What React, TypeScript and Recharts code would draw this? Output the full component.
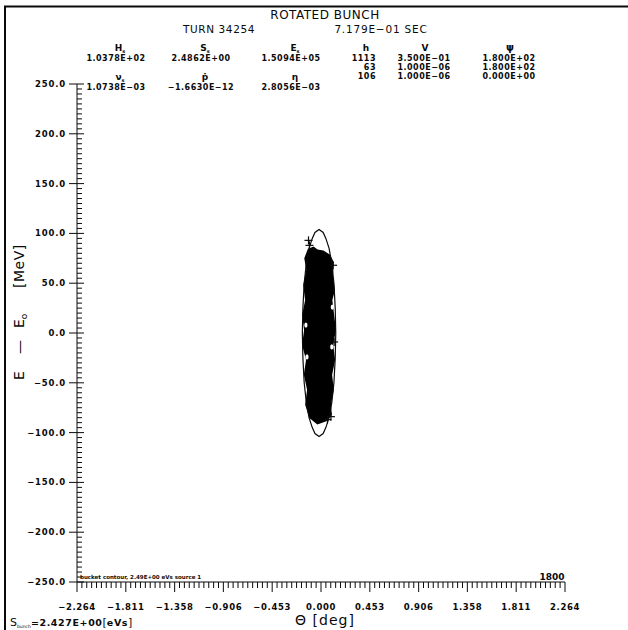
import { Curve, Scatter, ScatterChart, XAxis, YAxis } from 'recharts';

// axis labels (major ticks); minor ticks split each gap into 10
const xMajorTicks = [-2.264, -1.811, -1.358, -0.906, -0.453, 0, 0.453, 0.906, 1.358, 1.811, 2.264];
const yMajorTicks = [-250, -200, -150, -100, -50, 0, 50, 100, 150, 200, 250];

// outline of the particle cloud (theta [deg], E [MeV])
const bunchOutline = [
  { theta: -0.116, e: 84 }, { theta: -0.07, e: 86 }, { theta: -0.033, e: 83 }, { theta: 0.02, e: 82 },
  { theta: 0.079, e: 78 }, { theta: 0.112, e: 71 }, { theta: 0.104, e: 58 }, { theta: 0.122, e: 43 },
  { theta: 0.098, e: 33 }, { theta: 0.115, e: 18 }, { theta: 0.132, e: 3 }, { theta: 0.106, e: -12 },
  { theta: 0.124, e: -27 }, { theta: 0.096, e: -42 }, { theta: 0.112, e: -57 }, { theta: 0.086, e: -72 },
  { theta: 0.094, e: -82 }, { theta: 0.046, e: -88 }, { theta: -0.033, e: -91 }, { theta: -0.102, e: -85 },
  { theta: -0.14, e: -72 }, { theta: -0.122, e: -57 }, { theta: -0.152, e: -42 }, { theta: -0.132, e: -27 },
  { theta: -0.168, e: -12 }, { theta: -0.15, e: 3 }, { theta: -0.168, e: 18 }, { theta: -0.14, e: 33 },
  { theta: -0.158, e: 48 }, { theta: -0.13, e: 63 }, { theta: -0.148, e: 75 },
];

// bucket contour (2.49E+00 eVs)
const bucketContour = [
  { theta: -0.018, e: 104 }, { theta: 0.02, e: 101 }, { theta: 0.045, e: 95 }, { theta: 0.075, e: 85 },
  { theta: 0.1, e: 70 }, { theta: 0.12, e: 50 }, { theta: 0.132, e: 25 }, { theta: 0.137, e: 0 },
  { theta: 0.132, e: -25 }, { theta: 0.12, e: -50 }, { theta: 0.1, e: -70 }, { theta: 0.075, e: -85 },
  { theta: 0.045, e: -95 }, { theta: 0.02, e: -101 }, { theta: -0.018, e: -104 }, { theta: -0.056, e: -101 },
  { theta: -0.081, e: -95 }, { theta: -0.111, e: -85 }, { theta: -0.136, e: -70 }, { theta: -0.156, e: -50 },
  { theta: -0.168, e: -25 }, { theta: -0.173, e: 0 }, { theta: -0.168, e: 25 }, { theta: -0.156, e: 50 },
  { theta: -0.136, e: 70 }, { theta: -0.111, e: 85 }, { theta: -0.081, e: 95 }, { theta: -0.056, e: 101 },
];

const strayParticles = [
  { theta: -0.116, e: 93 }, { theta: -0.107, e: 88 }, { theta: 0.112, e: 68 },
  { theta: 0.122, e: -9 }, { theta: 0.06, e: -87 }, { theta: 0.092, e: -84 },
];

// white notches along the edge of the cloud
const cloudGaps = [
  { theta: -0.14, e: 8 }, { theta: 0.105, e: 26 }, { theta: 0.1, e: -14 }, { theta: -0.13, e: -24 },
];

// header table
const symbolsTop = [['H', 's'], ['S', 's'], ['E', 's']];
const valuesTop = ['1.0378E+02', '2.4862E+00', '1.5094E+05'];
const symbolsBottom = [['ν', 's'], ['ṗ', ''], ['η', '']];
const valuesBottom = ['1.0738E-03', '-1.6630E-12', '2.8056E-03'];
const harmonics = ['1113', '63', '106'];
const voltages = ['3.500E-01', '1.000E-06', '1.000E-06'];
const phases = ['1.800E+02', '1.800E+02', '0.000E+00'];

const INK = '#0a0a0a';
const FONT = 'DejaVu Sans, sans-serif';

const subdivide = (majors: number[], parts: number) => {
  const out: number[] = [];
  majors.forEach((m, i) => {
    if (i === majors.length - 1) {
      out.push(m);
      return;
    }
    const step = (majors[i + 1] - m) / parts;
    for (let k = 0; k < parts; k++) out.push(m + k * step);
  });
  return out;
};

const xTicks = subdivide(xMajorTicks, 10);
const yTicks = subdivide(yMajorTicks, 10);

const isMajor = (majors: number[], v: number) => majors.some(m => Math.abs(m - v) < 1e-6);
const minus = (s: string) => s.replace(/-/g, '−');

const XTick = (props: any) => {
  const { x, y, payload } = props;
  const major = isMajor(xMajorTicks, payload.value);
  return (
    <g>
      <line x1={x} x2={x} y1={y} y2={y + (major ? 10 : 6)} stroke={INK} strokeWidth={1} />
      {major && (
        <text x={x} y={y + 28} textAnchor="middle" fontSize={8.5} fontWeight="bold" letterSpacing={0.6} fill={INK} fontFamily={FONT}>
          {minus(payload.value.toFixed(3))}
        </text>
      )}
    </g>
  );
};

const YTick = (props: any) => {
  const { x, y, payload } = props;
  const major = isMajor(yMajorTicks, payload.value);
  return (
    <g>
      <line x1={major ? x - 8 : x} x2={x + (major ? 7 : 5)} y1={y} y2={y} stroke={INK} strokeWidth={1} />
      {major && (
        <text x={x - 11} y={y + 3} textAnchor="end" fontSize={8.5} fontWeight="bold" letterSpacing={0.8} fill={INK} fontFamily={FONT}>
          {minus(payload.value.toFixed(1))}
        </text>
      )}
    </g>
  );
};

const Plus = (props: any) => {
  const { cx, cy } = props;
  return (
    <g stroke={INK} strokeWidth={1.2}>
      <line x1={cx - 4} x2={cx + 4} y1={cy} y2={cy} />
      <line x1={cx} x2={cx} y1={cy - 4} y2={cy + 4} />
    </g>
  );
};

const Gap = (props: any) => <ellipse cx={props.cx} cy={props.cy} rx={1.6} ry={2.6} fill="#fff" />;
const NoShape = () => <g />;

const colX = [116, 201, 291];

export default function App() {
  const txt = { fill: INK, fontFamily: FONT };
  return (
    <div style={{ position: 'absolute', left: 0, top: 0, width: 628, height: 630, background: '#fff' }}>
      <ScatterChart width={628} height={630} margin={{ top: 84, right: 63, bottom: 0, left: 0 }}>
        <XAxis
          type="number"
          dataKey="theta"
          domain={[-2.264, 2.264]}
          allowDataOverflow
          ticks={xTicks}
          interval={0}
          tickSize={0}
          tickMargin={0}
          tickLine={false}
          tick={XTick}
          height={48}
          axisLine={{ stroke: INK }}
        />
        <YAxis
          type="number"
          dataKey="e"
          domain={[-250, 250]}
          allowDataOverflow
          ticks={yTicks}
          interval={0}
          tickSize={0}
          tickMargin={0}
          tickLine={false}
          tick={YTick}
          width={77}
          axisLine={{ stroke: INK }}
        />
        <Scatter
          data={bunchOutline}
          isAnimationActive={false}
          shape={NoShape}
          line={(p: any) => <Curve {...p} type="linearClosed" fill="#000" stroke="#000" strokeWidth={1.5} />}
        />
        <Scatter data={cloudGaps} isAnimationActive={false} shape={Gap} />
        <Scatter
          data={bucketContour}
          isAnimationActive={false}
          shape={NoShape}
          line={(p: any) => <Curve {...p} type="linearClosed" fill="none" stroke={INK} strokeWidth={1.2} />}
        />
        <Scatter data={strayParticles} isAnimationActive={false} shape={Plus} />
      </ScatterChart>

      <svg width={628} height={630} style={{ position: 'absolute', left: 0, top: 0, pointerEvents: 'none' }}>
        {/* frame */}
        <line x1={4} x2={628} y1={6.5} y2={6.5} stroke={INK} strokeWidth={2} />
        <line x1={5} x2={5} y1={6} y2={630} stroke={INK} strokeWidth={2} />

        <text x={325} y={19} textAnchor="middle" fontSize={12} letterSpacing={0.5} {...txt}>ROTATED BUNCH</text>
        <text x={219} y={33} textAnchor="middle" fontSize={10.5} letterSpacing={0.6} {...txt}>TURN 34254</text>
        <text x={381} y={33} textAnchor="middle" fontSize={10.5} letterSpacing={0.8} {...txt}>{minus('7.179E-01  SEC')}</text>

        {symbolsTop.map(([s, sub], i) => (
          <text key={s} x={colX[i] + 4} y={51} textAnchor="middle" fontSize={9} fontWeight="bold" {...txt}>
            {s}<tspan fontSize={5} dy={2}>{sub}</tspan>
          </text>
        ))}
        {valuesTop.map((v, i) => (
          <text key={v} x={colX[i]} y={61} textAnchor="middle" fontSize={8} fontWeight="bold" letterSpacing={0.5} {...txt}>{minus(v)}</text>
        ))}
        {symbolsBottom.map(([s, sub], i) => (
          <text key={s} x={colX[i] + 4} y={80} textAnchor="middle" fontSize={9} fontWeight="bold" {...txt}>
            {s}<tspan fontSize={5} dy={2}>{sub}</tspan>
          </text>
        ))}
        {valuesBottom.map((v, i) => (
          <text key={v} x={colX[i]} y={90} textAnchor="middle" fontSize={8} fontWeight="bold" letterSpacing={0.5} {...txt}>{minus(v)}</text>
        ))}

        <text x={366} y={51} textAnchor="middle" fontSize={9} fontWeight="bold" {...txt}>h</text>
        <text x={425} y={51} textAnchor="middle" fontSize={9} fontWeight="bold" {...txt}>V</text>
        <text x={510} y={51} textAnchor="middle" fontSize={10} fontWeight="bold" {...txt}>ψ</text>
        {harmonics.map((v, i) => (
          <text key={'h' + i} x={376} y={61 + i * 9} textAnchor="end" fontSize={8} fontWeight="bold" letterSpacing={0.5} {...txt}>{v}</text>
        ))}
        {voltages.map((v, i) => (
          <text key={'v' + i} x={424} y={61 + i * 9} textAnchor="middle" fontSize={8} fontWeight="bold" letterSpacing={0.5} {...txt}>{minus(v)}</text>
        ))}
        {phases.map((v, i) => (
          <text key={'p' + i} x={509} y={61 + i * 9} textAnchor="middle" fontSize={8} fontWeight="bold" letterSpacing={0.5} {...txt}>{minus(v)}</text>
        ))}

        {/* labels inside the plot */}
        <text x={80} y={579} fontSize={5.5} fontWeight="bold" {...txt}>bucket contour, 2.49E+00 eVs   source 1</text>
        <text x={552} y={580} textAnchor="middle" fontSize={9} fontWeight="bold" {...txt}>1800</text>

        {/* axis titles */}
        <text x={325} y={625} textAnchor="middle" fontSize={14} letterSpacing={1} {...txt}>Θ [deg]</text>
        <g transform="translate(24,0) rotate(-90)">
          <text x={-380} y={0} fontSize={14} {...txt}>E</text>
          <text x={-354} y={0} fontSize={14} {...txt}>—</text>
          <text x={-328} y={0} fontSize={14} {...txt}>E<tspan fontSize={9} dy={3}>o</tspan></text>
          <text x={-288} y={0} fontSize={14} letterSpacing={0.5} {...txt}>[MeV]</text>
        </g>
        <text x={10} y={626} {...txt}>
          <tspan fontSize={11}>S</tspan>
          <tspan fontSize={4.5} dy={2}>bunch</tspan>
          <tspan fontSize={9.5} dy={-2} fontWeight="bold" letterSpacing={0.6}>{'=2.427E+00'}</tspan>
          <tspan fontSize={11}>[</tspan>
          <tspan fontSize={9.5} fontWeight="bold" letterSpacing={0.6}>eVs</tspan>
          <tspan fontSize={11}>]</tspan>
        </text>
      </svg>
    </div>
  );
}
